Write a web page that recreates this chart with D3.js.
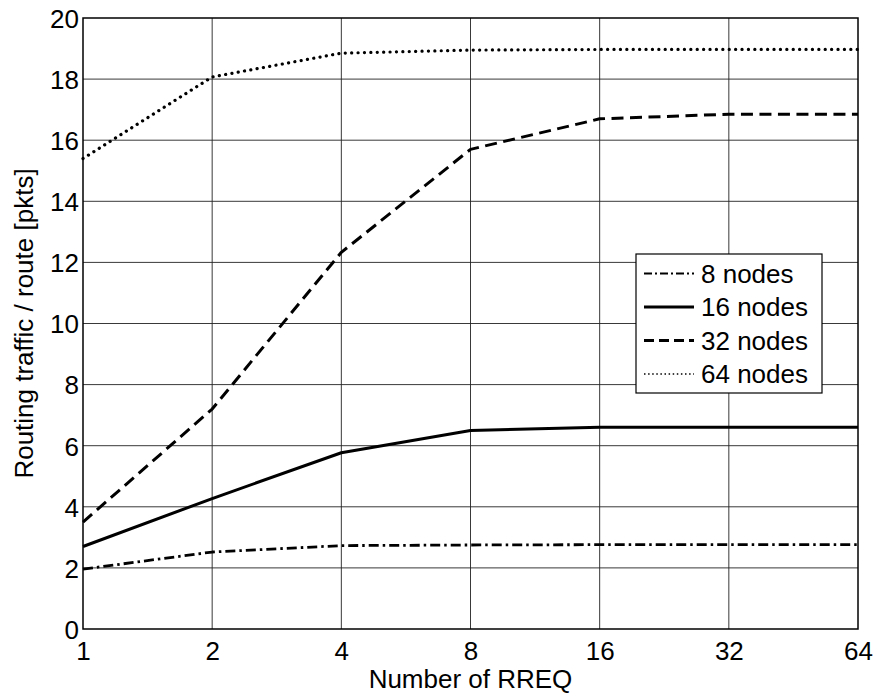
<!DOCTYPE html>
<html>
<head>
<meta charset="utf-8">
<script src="https://cdn.jsdelivr.net/npm/d3@7"></script>
<style>
  body { margin: 0; background: #fff; }
  svg { font-family: "Liberation Sans", Arial, sans-serif; }
</style>
</head>
<body>
<svg id="chart" width="877" height="695"></svg>
<script>
// chart data
const rreq = [1, 2, 4, 8, 16, 32, 64]
const nodes8 = [1.96, 2.52, 2.73, 2.75, 2.76, 2.76, 2.76]
const nodes16 = [2.7, 4.27, 5.77, 6.5, 6.6, 6.6, 6.6]
const nodes32 = [3.5, 7.2, 12.33, 15.7, 16.7, 16.85, 16.85]
const nodes64 = [15.4, 18.07, 18.85, 18.95, 18.97, 18.97, 18.97]
const seriesNames = ['8 nodes', '16 nodes', '32 nodes', '64 nodes']
const yTicks = [0, 2, 4, 6, 8, 10, 12, 14, 16, 18, 20]

const margin = { top: 18, left: 83, right: 19, bottom: 66 }
const width = 877, height = 695
const fontSize = '26px'
const svg = d3.select('#chart')

const x = d3.scaleLog().base(2)
    .domain([1, 64])
    .range([margin.left, width - margin.right])
const y = d3.scaleLinear()
    .domain([0, 20])
    .range([height - margin.bottom, margin.top])

// grid
const grid = svg.append('g')
grid.selectAll('.gx').data(rreq.slice(1, -1)).enter().append('line')
    .attr('x1', d => x(d)).attr('x2', d => x(d))
    .attr('y1', y(0)).attr('y2', y(20))
    .attr('stroke', '#222').attr('stroke-width', 0.9)
grid.selectAll('.gy').data(yTicks.slice(1, -1)).enter().append('line')
    .attr('x1', x(1)).attr('x2', x(64))
    .attr('y1', d => y(d)).attr('y2', d => y(d))
    .attr('stroke', '#222').attr('stroke-width', 0.9)

// axes
const xAxis = d3.axisBottom(x).tickValues(rreq).tickFormat(d3.format('d')).tickSize(0).tickPadding(13)
const yAxis = d3.axisLeft(y).tickValues(yTicks).tickSize(0).tickPadding(4)

const gx = svg.append('g').attr('transform', `translate(0,${y(0)})`).call(xAxis)
const gy = svg.append('g').attr('transform', `translate(${x(1)},0)`).call(yAxis)
for (const g of [gx, gy]) {
    g.attr('font-size', null).attr('font-family', null)
    g.select('.domain').remove()
    g.selectAll('text').attr('fill', '#000').style('font-size', fontSize)
}
gx.selectAll('text').attr('dy', '0.71em')
gy.selectAll('text').attr('dy', '0.36em')

// frame
svg.append('rect')
    .attr('x', x(1)).attr('y', y(20))
    .attr('width', x(64) - x(1)).attr('height', y(0) - y(20))
    .attr('fill', 'none').attr('stroke', '#000').attr('stroke-width', 1.5)

// axis labels
svg.append('text')
    .attr('x', (x(1) + x(64)) / 2).attr('y', 688)
    .attr('text-anchor', 'middle').style('font-size', fontSize)
    .text('Number of RREQ')
svg.append('text')
    .attr('transform', `translate(33,${(y(0) + y(20)) / 2}) rotate(-90)`)
    .attr('text-anchor', 'middle').style('font-size', fontSize)
    .text('Routing traffic / route [pkts]')

// lines
const series = [
    { name: seriesNames[0], vals: nodes8, dash: '10,4,2.5,4', w: 2.8, cap: 'butt' },
    { name: seriesNames[1], vals: nodes16, dash: null, w: 3, cap: 'butt' },
    { name: seriesNames[2], vals: nodes32, dash: '12,6.5', w: 3, cap: 'butt' },
    { name: seriesNames[3], vals: nodes64, dash: '0.1,6.3', w: 3.2, cap: 'round' },
]
const line = d3.line()
    .x((d, i) => x(rreq[i]))
    .y(d => y(d))

for (const s of series) {
    svg.append('path')
        .datum(s.vals)
        .attr('d', line)
        .attr('fill', 'none')
        .attr('stroke', '#000')
        .attr('stroke-width', s.w)
        .attr('stroke-linecap', s.cap)
        .attr('stroke-linejoin', 'round')
        .attr('stroke-dasharray', s.dash)
}

// legend
const lg = svg.append('g').attr('transform', 'translate(636,254)')
lg.append('rect')
    .attr('width', 186).attr('height', 139)
    .attr('fill', '#fff').attr('stroke', '#000').attr('stroke-width', 1.2)
const legendDash = ['8,3,2,3', null, '10,5', '1.5,2.6']
const legendW = [2.2, 3, 3, 1.6]
series.forEach((s, i) => {
    const yy = 19.5 + i * 33.5
    lg.append('line')
        .attr('x1', 8).attr('x2', 58)
        .attr('y1', yy).attr('y2', yy)
        .attr('stroke', '#000').attr('stroke-width', legendW[i])
        .attr('stroke-dasharray', legendDash[i])
    lg.append('text')
        .attr('x', 65).attr('y', yy).attr('dy', '0.36em')
        .style('font-size', fontSize)
        .text(s.name)
})
</script>
</body>
</html>
